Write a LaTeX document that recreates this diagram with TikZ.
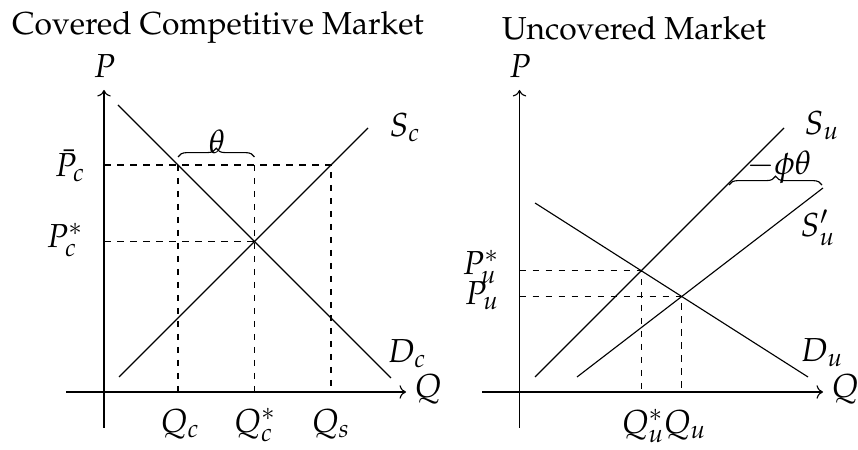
\documentclass[tikz,border=0pt]{standalone}
\usepackage[T1]{fontenc}
\usepackage{mathpazo}
\usetikzlibrary{arrows.meta,decorations.pathreplacing}
\tikzset{
  axis/.style={->},
  guide/.style={dash pattern=on 2.6pt off 2.6pt},
  lbl/.style={inner sep=0pt, anchor=base},
  ttl/.style={inner sep=0pt, anchor=base, font=\fontsize{12.7}{15}\selectfont},
  brc/.style={decorate, decoration={brace, amplitude=3.5pt}},
}

\begin{document}
\begin{tikzpicture}[x=0.4pt, y=0.4pt, font=\fontsize{13.3}{16}\selectfont, line width=0.45pt]
  \useasboundingbox (0,0) rectangle (858,450);
  % covered market
  \node[ttl] (tc) at (218,415) {Covered Competitive Market};
  \draw[axis] (104,22) -- (104,360);
  \draw[axis] (66,58) -- (406,58);
  \coordinate (Dc0) at (118,345);
  \coordinate (Dc1) at (391,72);
  \coordinate (Sc0) at (119,73);
  \coordinate (Sc1) at (368,322);
  \coordinate (Ec) at (254.5,208.5);
  \coordinate (Ac) at (178,285);
  \coordinate (Bc) at (331,285);
  \draw (Dc0) -- (Dc1);
  \draw (Sc0) -- (Sc1);
  \draw[guide] (104,285) -- (Bc) -- (331,58);
  \draw[guide] (Ac) -- (178,58);
  \draw[guide] (254.5,285) -- (254.5,58);
  \draw[guide] (104,208.5) -- (Ec);
  \draw[brc] (178,293) -- (254.5,293);
  \node[lbl] (Pc) at (104.5,372) {$P$};
  \node[lbl] (Qcax) at (428,52) {$Q$};
  \node[inner sep=0pt] (thc) at (217,308) {$\theta$};
  \node[lbl] (Sc) at (405,313) {$S_c$};
  \node[lbl] (Dc) at (407,87) {$D_c$};
  \node[lbl] (Pbarc) at (70,273) {$\bar{P}_c$};
  \node[lbl] (Pstarc) at (65,202) {$P_c^*$};
  \node[lbl] (Qc) at (180,17) {$Q_c$};
  \node[lbl] (Qstarc) at (255,17) {$Q_c^*$};
  \node[lbl] (Qs) at (331,17) {$Q_s$};
  % uncovered market
  \node[ttl] (tu) at (634,410) {Uncovered Market};
  \draw[axis] (519.5,22) -- (519.5,360);
  \draw[axis] (482,58) -- (823,58);
  \coordinate (Du0) at (535,247);
  \coordinate (Du1) at (808,73);
  \coordinate (Su0) at (535,73);
  \coordinate (Su1) at (784,322);
  \coordinate (Sp0) at (577,73);
  \coordinate (Sp1) at (823,262);
  \coordinate (Eu) at (641.3,179.3);
  \coordinate (Fu) at (681.7,153.5);
  \draw (Du0) -- (Du1);
  \draw (Su0) -- (Su1);
  \draw (Sp0) -- (Sp1);
  \draw[guide] (519.5,179.3) -- (Eu) -- (641.3,58);
  \draw[guide] (519.5,153.5) -- (Fu) -- (681.7,58);
  \draw[brc] (729,265) -- (822,265);
  \node[lbl] (Pu) at (520,372) {$P$};
  \node[lbl] (Quax) at (845,52) {$Q$};
  \node[lbl] (phth) at (779,275) {$-\phi\theta$};
  \node[lbl] (Su) at (822,315) {$S_u$};
  \node[lbl] (Spu) at (818,213) {$S'_u$};
  \node[lbl] (Du) at (822,88) {$D_u$};
  \node[lbl] (Pstaru) at (481,175) {$P_u^*$};
  \node[lbl] (Pbaru) at (482,145) {$P_u$};
  \node[lbl] (Qstaru) at (643,16) {$Q_u^*$};
  \node[lbl] (Qu) at (685,16) {$Q_u$};
\end{tikzpicture}
\end{document}
